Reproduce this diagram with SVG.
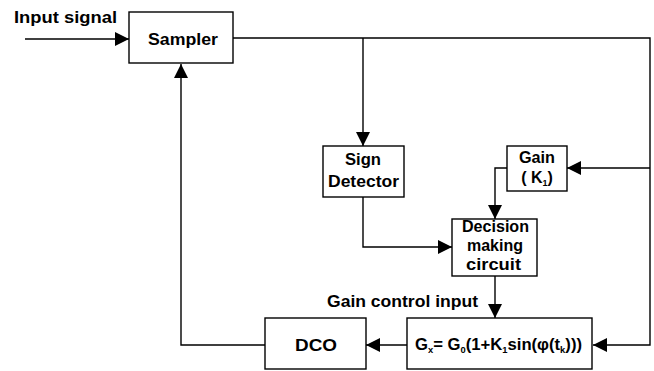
<svg xmlns="http://www.w3.org/2000/svg" width="654" height="371" viewBox="0 0 654 371">
<style>
.box{fill:#fff;stroke:#000;stroke-width:1.4}
.ln{fill:none;stroke:#000;stroke-width:1.4}
text{font-family:"Liberation Sans",Arial,sans-serif;font-weight:bold;fill:#000}
.t{font-size:16px;text-anchor:middle}
</style>
<defs>
<marker id="ah" viewBox="0 0 14 14" refX="14" refY="7" markerWidth="14" markerHeight="14" markerUnits="userSpaceOnUse" orient="auto">
<path d="M0,0 L14,7 L0,14 z" fill="#000"/>
</marker>
</defs>
<g id="connectors">
<line class="ln" x1="25" y1="39" x2="129" y2="39" marker-end="url(#ah)"/>
<polyline class="ln" points="233,38 650,38 650,345 593,345" marker-end="url(#ah)"/>
<line class="ln" x1="363" y1="38" x2="363" y2="146" marker-end="url(#ah)"/>
<line class="ln" x1="650" y1="168" x2="567" y2="168" marker-end="url(#ah)"/>
<polyline class="ln" points="507,168 495,168 495,219" marker-end="url(#ah)"/>
<polyline class="ln" points="363,197 363,247 452,247" marker-end="url(#ah)"/>
<line class="ln" x1="495" y1="276" x2="495" y2="318" marker-end="url(#ah)"/>
<line class="ln" x1="407" y1="345" x2="366" y2="345" marker-end="url(#ah)"/>
<polyline class="ln" points="265,345 181,345 181,64" marker-end="url(#ah)"/>
</g>
<text x="14" y="23" style="font-size:16px" textLength="103" lengthAdjust="spacingAndGlyphs">Input signal</text>
<text x="327" y="307" style="font-size:16px" textLength="151" lengthAdjust="spacingAndGlyphs">Gain control input</text>
<g id="sampler">
<rect class="box" x="129" y="12" width="104" height="51"/>
<text class="t" x="183" y="45" style="font-size:17px" textLength="70" lengthAdjust="spacingAndGlyphs">Sampler</text>
</g>
<g id="sign">
<rect class="box" x="323" y="146" width="81" height="51"/>
<text class="t" x="363" y="165" textLength="36" lengthAdjust="spacingAndGlyphs">Sign</text>
<text class="t" x="363.5" y="187" textLength="71" lengthAdjust="spacingAndGlyphs">Detector</text>
</g>
<g id="gain">
<rect class="box" x="507" y="146" width="60" height="45"/>
<text class="t" x="537" y="163" textLength="36" lengthAdjust="spacingAndGlyphs">Gain</text>
<text class="t" x="537" y="183">( K<tspan font-size="9" dy="3">1</tspan><tspan dy="-3">)</tspan></text>
</g>
<g id="decision">
<rect class="box" x="452" y="219" width="85" height="57"/>
<text class="t" x="495.5" y="232" textLength="67" lengthAdjust="spacingAndGlyphs">Decision</text>
<text class="t" x="495" y="251" textLength="56" lengthAdjust="spacingAndGlyphs">making</text>
<text class="t" x="493.5" y="270" textLength="55" lengthAdjust="spacingAndGlyphs">circuit</text>
</g>
<g id="dco">
<rect class="box" x="265" y="318" width="101" height="51"/>
<text class="t" x="316" y="351" textLength="42" lengthAdjust="spacingAndGlyphs">DCO</text>
</g>
<g id="gx">
<rect class="box" x="407" y="318" width="185" height="51"/>
<text class="t" x="498.5" y="350" style="font-size:16px" textLength="167" lengthAdjust="spacingAndGlyphs">G<tspan font-size="9" dy="3">x</tspan><tspan dy="-3">= G</tspan><tspan font-size="9" dy="3">0</tspan><tspan dy="-3">(1+K</tspan><tspan font-size="9" dy="3">1</tspan><tspan dy="-3">sin(φ(t</tspan><tspan font-size="9" dy="3">k</tspan><tspan dy="-3">)))</tspan></text>
</g>
</svg>
